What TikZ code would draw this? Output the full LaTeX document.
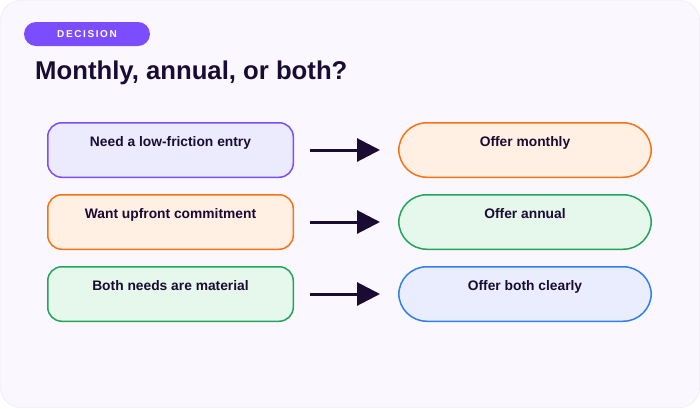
\documentclass[tikz,border=0pt]{standalone}
\usepackage{fontspec}
\setmainfont{Liberation Sans}
\newfontfamily\spacedfont[LetterSpace=16]{Liberation Sans}
\usetikzlibrary{arrows.meta,positioning}
\definecolor{ink}{HTML}{1A0B33}
\definecolor{canvas}{HTML}{FAF8FE}
\definecolor{canvasline}{HTML}{E6E3EF}
\definecolor{purpleline}{HTML}{7C4DFF}
\definecolor{purplefill}{HTML}{ECEBFE}
\definecolor{orangeline}{HTML}{F97316}
\definecolor{orangefill}{HTML}{FFF0E3}
\definecolor{greenline}{HTML}{22A559}
\definecolor{greenfill}{HTML}{E6F7EC}
\definecolor{blueline}{HTML}{2F7FF0}
\definecolor{bluefill}{HTML}{EAEDFE}
\tikzset{
  tagpill/.style={fill=purpleline,rounded corners=12pt,minimum width=126pt,minimum height=24pt,inner sep=0pt,text=white,font=\spacedfont\bfseries\fontsize{10}{12}\selectfont},
  needbox/.style={rounded corners=14pt,line width=1.5pt,minimum width=245.5pt,inner sep=0pt,text height=23.5pt,text depth=31pt,text=ink,font=\bfseries\fontsize{13.8}{16}\selectfont},
  offerbox/.style={rounded corners=28pt,line width=1.5pt,minimum width=252.5pt,inner sep=0pt,text height=23.5pt,text depth=31pt,text=ink,font=\bfseries\fontsize{13.8}{16}\selectfont},
  decflow/.style={-{Triangle[length=23pt,width=23pt]},line width=3pt,draw=ink,shorten <=16pt,shorten >=18pt}
}
\begin{document}
\begin{tikzpicture}[x=1pt,y=-1pt,node distance=16pt]
  \useasboundingbox (0,0) rectangle (700,408);
  \draw[canvasline,fill=canvas,rounded corners=20pt] (0.5,0.5) rectangle (699.5,407.5);
  \node[tagpill] (tag) at (87,34) {DECISION};
  \node[anchor=base west,text=ink,inner sep=0pt,font=\bfseries\fontsize{25.7}{30}\selectfont] (title) at (35,79) {Monthly, annual, or both?};
  % needs on the left
  \node[needbox,draw=purpleline,fill=purplefill,anchor=north west] (need1) at (47,122) {Need a low-friction entry};
  \node[needbox,draw=orangeline,fill=orangefill,below=of need1] (need2) {Want upfront commitment};
  \node[needbox,draw=greenline,fill=greenfill,below=of need2] (need3) {Both needs are material};
  % offers on the right
  \node[offerbox,draw=orangeline,fill=orangefill,right=104pt of need1] (offer1) {Offer monthly};
  \node[offerbox,draw=greenline,fill=greenfill,right=104pt of need2] (offer2) {Offer annual};
  \node[offerbox,draw=blueline,fill=bluefill,right=104pt of need3] (offer3) {Offer both clearly};
  \draw[decflow] (need1) -- (offer1);
  \draw[decflow] (need2) -- (offer2);
  \draw[decflow] (need3) -- (offer3);
\end{tikzpicture}
\end{document}
